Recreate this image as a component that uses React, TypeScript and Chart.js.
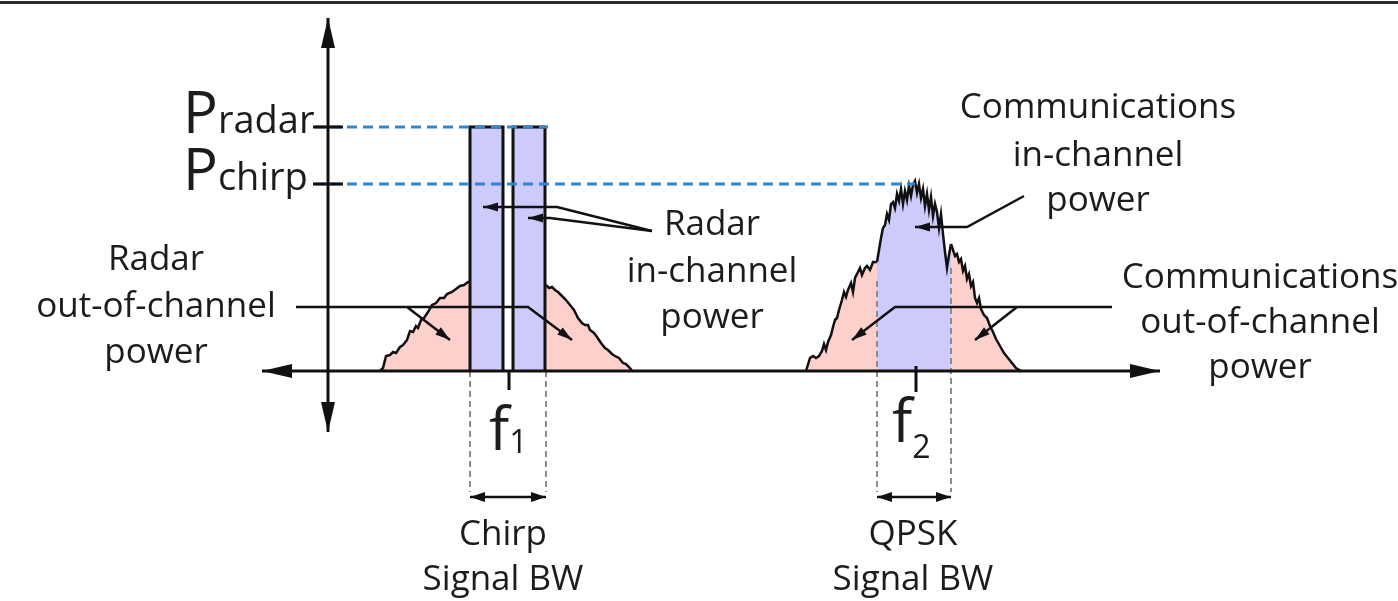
import React, { useEffect, useRef } from "react";
import { Chart, registerables } from "chart.js";

Chart.register(...registerables);

// ---------- data (frequency / power, arbitrary units) ----------
const FREQ_RANGE = [0, 139.8];
const POWER_RANGE = [-23.0, 37.1];
const P_RADAR = 24.4;
const P_CHIRP = 18.7;
const F1 = 50.9;
const F2 = 91.6;
const CHIRP_BW = [47.0, 54.6];
const QPSK_BW = [87.7, 95.1];
const RADAR_BAR_A = [47.0, 50.3];
const RADAR_BAR_B = [51.3, 54.5];
const FREQ_AXIS = [26.2, 116.0];
const POWER_AXIS = [-6.1, 35.3];
const POWER_AXIS_AT = 32.8;
const BW_MARK_LEVEL = -12.6;
const BW_GUIDE_END = -12.1;
const COMM_GUIDE_TOP = [9.0, 10.3];
const P_GUIDE_END = [54.8, 91.5];

const radarOocLeft: [number, number][] = [
  [38.0, 0], [38.3, 0.3], [38.6, 1.5], [39.0, 1.6], [39.3, 1.9], [39.6, 1.8], [40.0, 2.4],
  [40.3, 2.6], [40.7, 3.1], [41.0, 4.0], [41.3, 3.9], [41.6, 4.5], [41.8, 4.3], [42.1, 5.1],
  [42.4, 5.3], [42.8, 5.9], [43.2, 6.6], [43.6, 6.8], [44.0, 7.3], [44.4, 7.3], [44.7, 7.7],
  [45.2, 7.9], [45.6, 8.2], [46.0, 8.5], [46.4, 8.6], [46.8, 8.9], [47.0, 8.9],
];
const radarOocRight: [number, number][] = [
  [54.6, 8.6], [54.9, 8.3], [55.2, 8.4], [55.5, 8.1], [55.8, 7.9], [56.2, 7.5], [56.6, 7.1],
  [57.0, 6.6], [57.4, 6.1], [57.8, 5.3], [58.2, 4.8], [58.5, 4.6], [58.8, 4.6], [59.0, 4.1],
  [59.4, 3.8], [59.7, 3.4], [60.1, 2.8], [60.5, 2.3], [60.8, 2.1], [61.2, 1.7], [61.5, 1.5],
  [61.9, 1.3], [62.3, 0.8], [62.6, 0.7], [63.0, 0.3], [63.2, 0],
];
const commOocLeft: [number, number][] = [
  [80.6, 0], [81.0, 1.3], [81.3, 1.5], [81.6, 1.3], [81.9, 1.5], [82.2, 2.0], [82.4, 2.7],
  [82.6, 2.1], [82.8, 2.9], [83.1, 3.6], [83.3, 4.4], [83.5, 5.1], [83.7, 5.3], [83.9, 6.1],
  [84.2, 7.1], [84.4, 7.9], [84.6, 7.4], [84.8, 8.1], [85.1, 8.8], [85.3, 7.9], [85.5, 9.3],
  [85.8, 9.9], [86.0, 10.3], [86.2, 9.6], [86.5, 10.3], [86.7, 10.5], [87.0, 10.1], [87.3, 10.9],
  [87.7, 10.9],
];
const commInChannel: [number, number][] = [
  [87.7, 10.9], [87.9, 12.1], [88.1, 13.3], [88.3, 14.3], [88.5, 14.6], [88.7, 15.7], [88.9, 15.1],
  [89.1, 16.7], [89.3, 16.9], [89.5, 16.3], [89.7, 17.7], [89.9, 17.0], [90.1, 18.2], [90.3, 16.7],
  [90.5, 18.0], [90.7, 17.1], [90.9, 18.5], [91.1, 17.5], [91.3, 18.6], [91.5, 19.0], [91.7, 17.8],
  [91.9, 18.7], [92.1, 17.3], [92.3, 18.2], [92.5, 16.5], [92.7, 17.7], [92.9, 16.1], [93.1, 17.4],
  [93.3, 15.5], [93.5, 16.7], [93.7, 15.9], [93.9, 14.3], [94.1, 15.7], [94.3, 13.7], [94.5, 11.9],
  [94.7, 10.3], [94.9, 11.6], [95.1, 12.7],
];
const commOocRight: [number, number][] = [
  [95.1, 12.7], [95.3, 12.1], [95.5, 11.5], [95.7, 11.7], [95.9, 10.9], [96.1, 11.2], [96.3, 10.0],
  [96.5, 10.5], [96.7, 9.2], [96.9, 9.7], [97.1, 8.5], [97.3, 8.9], [97.5, 7.3], [97.7, 6.8],
  [97.9, 7.3], [98.1, 6.2], [98.4, 5.6], [98.7, 5.3], [99.0, 4.5], [99.3, 3.9], [99.6, 3.2],
  [100.0, 2.5], [100.4, 1.8], [100.8, 1.3], [101.2, 0.8], [101.6, 0.3], [102.1, 0],
];

// leader lines (data space)
const LEADER_RADAR_OOC_MAIN: [number, number][] = [[29.6, 6.4], [52.8, 6.4], [57.2, 3.1]];
const LEADER_RADAR_OOC_BRANCH: [number, number][] = [[40.7, 6.4], [45.0, 3.1]];
const LEADER_RADAR_IN_A: [number, number][] = [[65.2, 14.0], [55.7, 16.4], [48.3, 16.4]];
const LEADER_RADAR_IN_B: [number, number][] = [[65.2, 14.0], [55.0, 15.3], [52.8, 15.3]];
const LEADER_COMM_IN: [number, number][] = [[102.4, 17.5], [96.7, 14.4], [91.5, 14.4]];
const LEADER_COMM_OOC_MAIN: [number, number][] = [[111.2, 6.4], [89.5, 6.4], [85.2, 3.1]];
const LEADER_COMM_OOC_BRANCH: [number, number][] = [[101.7, 6.4], [97.5, 3.1]];

// texts
const TEXT_RADAR_OOC = ["Radar", "out-of-channel", "power"];
const TEXT_RADAR_IN = ["Radar", "in-channel", "power"];
const TEXT_COMM_IN = ["Communications", "in-channel", "power"];
const TEXT_COMM_OOC = ["Communications", "out-of-channel", "power"];
const TEXT_CHIRP = ["Chirp", "Signal BW"];
const TEXT_QPSK = ["QPSK", "Signal BW"];
const LABEL_P_RADAR = ["P", "radar"];
const LABEL_P_CHIRP = ["P", "chirp"];
const LABEL_F1 = ["f", "1"];
const LABEL_F2 = ["f", "2"];

// ---------- styles ----------
const PINK = "#fdd0cc";
const PURPLE = "#cdcbfb";
const INK = "#111111";
const TEXT_INK = "#1c1c1c";
const BLUE = "#2f86d1";
const GRAY = "#8c8c8c";
const FONT = '"Open Sans", "Noto Sans", sans-serif';

const TEXT_BLOCKS = [
  { lines: TEXT_RADAR_OOC, x: 15.6, ys: [10.1, 5.4, 0.8], size: 35 },
  { lines: TEXT_RADAR_IN, x: 71.2, ys: [13.6, 8.9, 4.3], size: 35 },
  { lines: TEXT_COMM_IN, x: 109.8, ys: [25.3, 20.5, 16.0], size: 35 },
  { lines: TEXT_COMM_OOC, x: 126.0, ys: [8.3, 3.8, -0.7], size: 35 },
  { lines: TEXT_CHIRP, x: 50.3, ys: [-17.4, -21.9], size: 35 },
  { lines: TEXT_QPSK, x: 91.3, ys: [-17.4, -21.9], size: 35 },
];
const SUB_LABELS = [
  { label: LABEL_P_RADAR, x: 18.3, y: 23.8, main: 58, sub: 38, drop: 0 },
  { label: LABEL_P_CHIRP, x: 18.3, y: 18.1, main: 58, sub: 38, drop: 0 },
  { label: LABEL_F1, x: 48.9, y: -7.9, main: 60, sub: 32, drop: 3 },
  { label: LABEL_F2, x: 89.2, y: -7.1, main: 60, sub: 32, drop: 16 },
];

type P = { x: number; y: number };
const pts = (a: [number, number][]): P[] => a.map(([x, y]) => ({ x, y }));
const rect = (r: number[], h: number): P[] => [
  { x: r[0], y: 0 }, { x: r[0], y: h }, { x: r[1], y: h }, { x: r[1], y: 0 },
];
const seg = (x0: number, y0: number, x1: number, y1: number): P[] => [
  { x: x0, y: y0 }, { x: x1, y: y1 },
];

function drawHead(ctx: CanvasRenderingContext2D, fx: number, fy: number, tx: number, ty: number, len: number, w: number) {
  const a = Math.atan2(ty - fy, tx - fx);
  const bx = tx - Math.cos(a) * len;
  const by = ty - Math.sin(a) * len;
  const nx = -Math.sin(a) * w;
  const ny = Math.cos(a) * w;
  ctx.beginPath();
  ctx.moveTo(tx, ty);
  ctx.lineTo(bx + nx, by + ny);
  ctx.lineTo(bx - nx, by - ny);
  ctx.closePath();
  ctx.fill();
}

const diagramPlugin = {
  id: "diagram",
  afterDatasetsDraw(chart: any) {
    const { ctx } = chart;
    const sx = chart.scales.x;
    const sy = chart.scales.y;
    const X = (v: number) => sx.getPixelForValue(v);
    const Y = (v: number) => sy.getPixelForValue(v);
    ctx.save();
    ctx.strokeStyle = INK;
    ctx.fillStyle = INK;
    ctx.lineCap = "butt";
    ctx.lineJoin = "miter";

    const arrowLine = (path: [number, number][], both: boolean, width: number, len: number, hw: number) => {
      const p = path.map(([a, b]) => [X(a), Y(b)]);
      ctx.lineWidth = width;
      ctx.beginPath();
      p.forEach(([a, b], i) => (i ? ctx.lineTo(a, b) : ctx.moveTo(a, b)));
      ctx.stroke();
      const n = p.length;
      drawHead(ctx, p[n - 2][0], p[n - 2][1], p[n - 1][0], p[n - 1][1], len, hw);
      if (both) drawHead(ctx, p[1][0], p[1][1], p[0][0], p[0][1], len, hw);
    };

    // axes
    arrowLine([[FREQ_AXIS[0], 0], [FREQ_AXIS[1], 0]], true, 3, 30, 7);
    arrowLine([[POWER_AXIS_AT, POWER_AXIS[0]], [POWER_AXIS_AT, POWER_AXIS[1]]], true, 3, 30, 7);

    // bandwidth markers
    arrowLine([[CHIRP_BW[0], BW_MARK_LEVEL], [CHIRP_BW[1], BW_MARK_LEVEL]], true, 2.5, 15, 5);
    arrowLine([[QPSK_BW[0], BW_MARK_LEVEL], [QPSK_BW[1], BW_MARK_LEVEL]], true, 2.5, 15, 5);

    // leaders
    [
      LEADER_RADAR_OOC_MAIN, LEADER_RADAR_OOC_BRANCH, LEADER_RADAR_IN_A, LEADER_RADAR_IN_B,
      LEADER_COMM_IN, LEADER_COMM_OOC_MAIN, LEADER_COMM_OOC_BRANCH,
    ].forEach((l) => arrowLine(l, false, 2.5, 15, 4.5));

    // texts
    ctx.fillStyle = TEXT_INK;
    ctx.textBaseline = "alphabetic";
    ctx.textAlign = "center";
    TEXT_BLOCKS.forEach((b) => {
      ctx.font = `${b.size}px ${FONT}`;
      b.lines.forEach((t, i) => ctx.fillText(t, X(b.x), Y(b.ys[i])));
    });
    ctx.textAlign = "left";
    SUB_LABELS.forEach((s) => {
      ctx.font = `${s.main}px ${FONT}`;
      const x0 = X(s.x);
      const y0 = Y(s.y);
      ctx.fillText(s.label[0], x0, y0);
      const w = ctx.measureText(s.label[0]).width;
      ctx.font = `${s.sub}px ${FONT}`;
      ctx.fillText(s.label[1], x0 + w, y0 + s.drop);
    });
    ctx.restore();
  },
};

const base = { type: "line" as const, showLine: true, pointRadius: 0, pointHoverRadius: 0, tension: 0, fill: false };

export default function App() {
  const ref = useRef<HTMLCanvasElement | null>(null);
  useEffect(() => {
    document.body.style.margin = "0";
    document.body.style.overflow = "hidden";
    if (!ref.current) return;
    const datasets: any[] = [
      { ...base, data: pts(radarOocLeft), fill: "origin", backgroundColor: PINK, borderColor: INK, borderWidth: 2.5, order: 10 },
      { ...base, data: pts(radarOocRight), fill: "origin", backgroundColor: PINK, borderColor: INK, borderWidth: 2.5, order: 10 },
      { ...base, data: pts(commOocLeft), fill: "origin", backgroundColor: PINK, borderColor: INK, borderWidth: 2.5, order: 10 },
      { ...base, data: pts(commInChannel), fill: "origin", backgroundColor: PURPLE, borderColor: INK, borderWidth: 2.5, order: 10 },
      { ...base, data: pts(commOocRight), fill: "origin", backgroundColor: PINK, borderColor: INK, borderWidth: 2.5, order: 10 },
      // bandwidth guide lines
      { ...base, data: seg(CHIRP_BW[0], 0, CHIRP_BW[0], BW_GUIDE_END), borderColor: GRAY, borderWidth: 2, borderDash: [6, 4], order: 8 },
      { ...base, data: seg(CHIRP_BW[1], 0, CHIRP_BW[1], BW_GUIDE_END), borderColor: GRAY, borderWidth: 2, borderDash: [6, 4], order: 8 },
      { ...base, data: seg(QPSK_BW[0], COMM_GUIDE_TOP[0], QPSK_BW[0], BW_GUIDE_END), borderColor: GRAY, borderWidth: 2, borderDash: [6, 4], order: 8 },
      { ...base, data: seg(QPSK_BW[1], COMM_GUIDE_TOP[1], QPSK_BW[1], BW_GUIDE_END), borderColor: GRAY, borderWidth: 2, borderDash: [6, 4], order: 8 },
      // radar in-channel bars
      { ...base, data: rect(RADAR_BAR_A, P_RADAR), fill: "origin", backgroundColor: PURPLE, borderColor: INK, borderWidth: 3, order: 6 },
      { ...base, data: rect(RADAR_BAR_B, P_RADAR), fill: "origin", backgroundColor: PURPLE, borderColor: INK, borderWidth: 3, order: 6 },
      // power reference lines
      { ...base, data: seg(31.5, P_RADAR, P_GUIDE_END[0], P_RADAR), borderColor: BLUE, borderWidth: 3, borderDash: [10, 6], order: 4 },
      { ...base, data: seg(31.5, P_CHIRP, P_GUIDE_END[1], P_CHIRP), borderColor: BLUE, borderWidth: 3, borderDash: [10, 6], order: 4 },
      // ticks
      { ...base, data: seg(31.3, P_RADAR, 34.3, P_RADAR), borderColor: INK, borderWidth: 3, order: 2 },
      { ...base, data: seg(31.3, P_CHIRP, 34.3, P_CHIRP), borderColor: INK, borderWidth: 3, order: 2 },
      { ...base, data: seg(F1, 0, F1, -1.9), borderColor: INK, borderWidth: 3, order: 2 },
      { ...base, data: seg(F2, 0.5, F2, -2.1), borderColor: INK, borderWidth: 3, order: 2 },
    ];
    const chart = new Chart(ref.current, {
      type: "scatter",
      data: { datasets },
      options: {
        animation: false,
        responsive: true,
        maintainAspectRatio: false,
        layout: { padding: 0 },
        events: [],
        scales: {
          x: { type: "linear", min: FREQ_RANGE[0], max: FREQ_RANGE[1], display: false },
          y: { type: "linear", min: POWER_RANGE[0], max: POWER_RANGE[1], display: false },
        },
        plugins: { legend: { display: false }, tooltip: { enabled: false } },
      },
      plugins: [diagramPlugin],
    } as any);
    return () => chart.destroy();
  }, []);

  return (
    <div style={{ position: "fixed", left: 0, top: 0, width: 1398, height: 601, background: "#fff", overflow: "hidden" }}>
      <canvas ref={ref} />
      <div style={{ position: "absolute", left: 0, top: 1, width: 1398, height: 3, background: "#2d2d2d" }} />
    </div>
  );
}
